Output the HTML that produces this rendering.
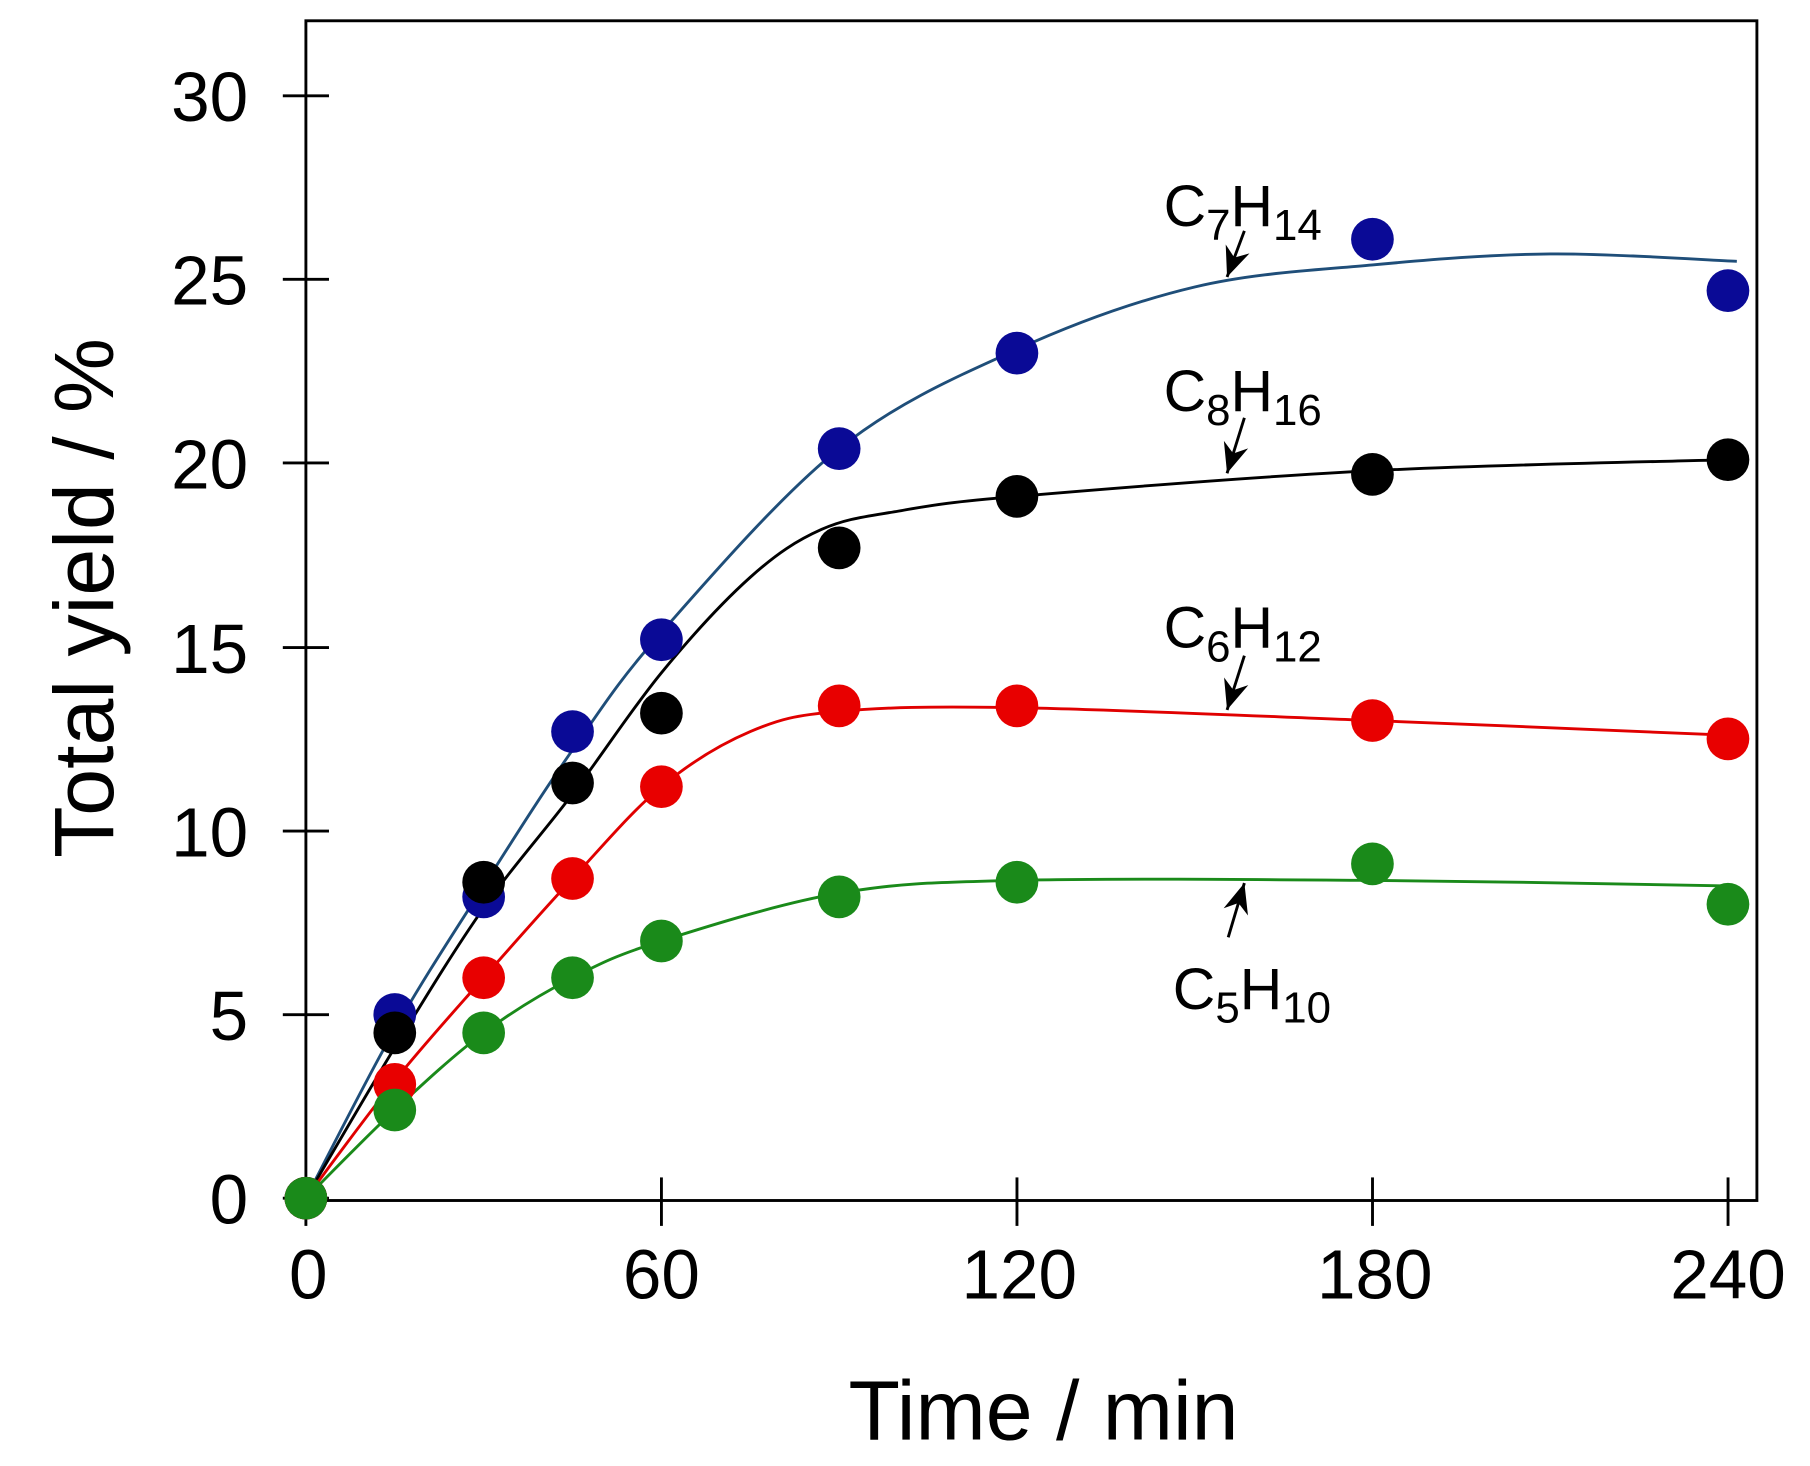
<!DOCTYPE html>
<html><head><meta charset="utf-8"><style>
html,body{margin:0;padding:0;background:#fff;}
svg{display:block;}
text{font-family:"Liberation Sans",Arial,sans-serif;fill:#000;}
</style></head><body>
<svg id="s" width="1810" height="1466" viewBox="0 0 1568 1270" preserveAspectRatio="none" xmlns="http://www.w3.org/2000/svg">
<rect x="265" y="18" width="1257" height="1022" fill="none" stroke="#000" stroke-width="2.5"/>
<g stroke="#000" stroke-width="2.5">
<line x1="245" y1="1038" x2="285" y2="1038"/>
<line x1="245" y1="879" x2="285" y2="879"/>
<line x1="245" y1="720" x2="285" y2="720"/>
<line x1="245" y1="561" x2="285" y2="561"/>
<line x1="245" y1="401" x2="285" y2="401"/>
<line x1="245" y1="242" x2="285" y2="242"/>
<line x1="245" y1="83" x2="285" y2="83"/>
<line x1="265" y1="1020" x2="265" y2="1062"/>
<line x1="573" y1="1020" x2="573" y2="1062"/>
<line x1="881" y1="1020" x2="881" y2="1062"/>
<line x1="1189" y1="1020" x2="1189" y2="1062"/>
<line x1="1497" y1="1020" x2="1497" y2="1062"/>
</g>
<g font-size="60" text-anchor="end">
<text x="215" y="1060">0</text>
<text x="215" y="901">5</text>
<text x="215" y="742">10</text>
<text x="215" y="583">15</text>
<text x="215" y="423">20</text>
<text x="215" y="264">25</text>
<text x="215" y="105">30</text>
</g>
<g font-size="60" text-anchor="middle">
<text x="267" y="1125">0</text>
<text x="573" y="1125">60</text>
<text x="883" y="1125">120</text>
<text x="1191" y="1125">180</text>
<text x="1497" y="1125">240</text>
</g>
<text x="904" y="1247" font-size="73" text-anchor="middle">Time / min</text>
<text transform="translate(98,518) rotate(-90)" font-size="73" text-anchor="middle">Total yield / %</text>
<g font-size="51">
<text x="1008" y="196">C<tspan font-size="38" dy="12">7</tspan><tspan dy="-12">H</tspan><tspan font-size="38" dy="12">14</tspan></text>
<text x="1008" y="356">C<tspan font-size="38" dy="12">8</tspan><tspan dy="-12">H</tspan><tspan font-size="38" dy="12">16</tspan></text>
<text x="1008" y="561">C<tspan font-size="38" dy="12">6</tspan><tspan dy="-12">H</tspan><tspan font-size="38" dy="12">12</tspan></text>
<text x="1016" y="874">C<tspan font-size="38" dy="12">5</tspan><tspan dy="-12">H</tspan><tspan font-size="38" dy="12">10</tspan></text>
</g>
<g id="series"></g>
<g id="arrows" fill="#000" stroke="#000" stroke-width="2.5"></g>
</svg>
<script>
var NS="http://www.w3.org/2000/svg";
function X(t){return 265+t*5.133;}
function Y(v){return 1038-v*31.83;}
function path(pts,color,g){
 var p=pts.map(function(a){return [X(a[0]),Y(a[1])];});
 var d="M"+p[0][0]+","+p[0][1];
 for(var i=0;i<p.length-1;i++){
  var p0=p[i-1]||p[i],p1=p[i],p2=p[i+1],p3=p[i+2]||p2;
  var c1=[p1[0]+(p2[0]-p0[0])/6,p1[1]+(p2[1]-p0[1])/6];
  var c2=[p2[0]-(p3[0]-p1[0])/6,p2[1]-(p3[1]-p1[1])/6];
  d+="C"+c1+" "+c2+" "+p2;
 }
 var e=document.createElementNS(NS,"path");
 e.setAttribute("d",d);e.setAttribute("fill","none");e.setAttribute("stroke",color);e.setAttribute("stroke-width","2.5");
 g.appendChild(e);
}
function dots(ts,vs,color,g){
 for(var i=0;i<ts.length;i++){var c=document.createElementNS(NS,"circle");
 c.setAttribute("cx",X(ts[i]));c.setAttribute("cy",Y(vs[i]));c.setAttribute("r","18.5");c.setAttribute("fill",color);g.appendChild(c);}
}
var g=document.getElementById("series");
var T=[0,15,30,45,60,90,120,180,240];
path([[0,0],[15,4.6],[30,8.5],[45,12.2],[60,15.4],[90,20.4],[120,23.1],[150,24.8],[180,25.4],[210,25.7],[241.5,25.5]],"#1f4e79",g);
path([[0,0],[15,4.1],[30,7.9],[45,11.0],[60,14.3],[75,16.9],[87,18.2],[100,18.7],[120,19.1],[180,19.8],[240,20.1]],"#000",g);
path([[0,0],[15,3.2],[30,6.0],[45,8.7],[60,11.2],[75,12.7],[90,13.25],[120,13.35],[180,13.0],[240,12.6]],"#e00000",g);
path([[0,0],[15,2.4],[30,4.5],[45,6.0],[60,7.0],[90,8.3],[120,8.65],[180,8.65],[240,8.5]],"#1a8a1a",g);
dots(T,[0,5.0,8.2,12.7,15.2,20.4,23.0,26.1,24.7],"#0a0a96",g);
dots(T,[0,4.5,8.6,11.3,13.2,17.7,19.1,19.7,20.1],"#000",g);
dots(T,[0,3.1,6.0,8.7,11.2,13.4,13.4,13.0,12.5],"#e80000",g);
dots(T,[0,2.4,4.5,6.0,7.0,8.2,8.6,9.1,8.0],"#1a8a1a",g);
var a=document.getElementById("arrows");
function arrow(x1,y1,x2,y2){
 var l=document.createElementNS(NS,"line");l.setAttribute("x1",x1);l.setAttribute("y1",y1);l.setAttribute("x2",x2);l.setAttribute("y2",y2);a.appendChild(l);
 var dx=x2-x1,dy=y2-y1,L=Math.sqrt(dx*dx+dy*dy);dx/=L;dy/=L;
 var bx=x2-dx*26,by=y2-dy*26,px=-dy*11,py=dx*11;
 var p=document.createElementNS(NS,"polygon");
 p.setAttribute("points",x2+","+y2+" "+(bx+px)+","+(by+py)+" "+(bx+dx*8)+","+(by+dy*8)+" "+(bx-px)+","+(by-py));
 p.setAttribute("stroke","none");a.appendChild(p);
}
arrow(1078,200,1063,240);
arrow(1078,362,1063,410);
arrow(1078,568,1063,615);
arrow(1064,812,1078,765);
</script>
</body></html>
